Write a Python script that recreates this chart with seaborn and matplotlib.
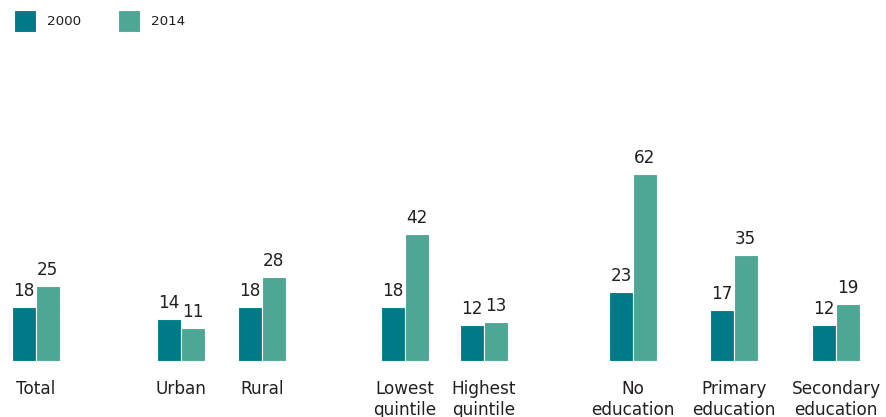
import matplotlib
matplotlib.use("Agg")
import matplotlib.pyplot as plt
import seaborn as sns
import pandas as pd

# Values per category for the two survey years
categories = ["Total", "Urban", "Rural", "Lowest\nquintile", "Highest\nquintile",
              "No\neducation", "Primary\neducation", "Secondary\neducation"]
values_2000 = [18, 14, 18, 18, 12, 23, 17, 12]
values_2014 = [25, 11, 28, 42, 13, 62, 35, 19]
years = ["2000", "2014"]

# Horizontal layout: group centres in pixel units (clusters separated by wider gaps)
group_x = [36, 181, 262, 405, 484, 633, 734, 836]

colors = {"2000": "#007A87", "2014": "#4FA694"}
text_color = "#231f20"

df = pd.DataFrame({
    "x": group_x * 2,
    "value": values_2000 + values_2014,
    "year": [years[0]] * len(categories) + [years[1]] * len(categories),
})

sns.set_theme(style="white")
plt.rcParams["font.family"] = ["DejaVu Sans"]

W, H = 886, 417
fig = plt.figure(figsize=(W / 100, H / 100), dpi=100)
base_px = 56           # baseline distance from bottom edge
px_per_unit = 3.016
ax = fig.add_axes([0, base_px / H, 1, (H - base_px) / H])

sns.barplot(data=df, x="x", y="value", hue="year", native_scale=True,
            palette=colors, saturation=1, width=0.595, edgecolor="white",
            linewidth=0.8, ax=ax, legend=True)

ax.set_xlim(0, W)
ax.set_ylim(0, (H - base_px) / px_per_unit)

for cont in ax.containers:
    ax.bar_label(cont, fmt="%d", padding=5, fontsize=12.2, color=text_color)

ax.set_xticks(group_x)
ax.set_xticklabels(categories, fontsize=12.2, color=text_color, linespacing=1.2)
ax.tick_params(axis="x", length=0, pad=14)
ax.set_yticks([])
ax.set_xlabel("")
ax.set_ylabel("")
sns.despine(ax=ax, left=True, bottom=True)

handles, labels = ax.get_legend_handles_labels()
ax.get_legend().remove()
leg = fig.legend(handles, labels, loc="upper left",
                 bbox_to_anchor=(14 / W, 1 - 10 / H), frameon=False,
                 ncol=2, fontsize=9.7, handlelength=1.63, handleheight=2.13,
                 handletextpad=0.81, columnspacing=2.74, borderpad=0,
                 borderaxespad=0)
for t in leg.get_texts():
    t.set_color(text_color)

fig.savefig("out.png", dpi=100)
